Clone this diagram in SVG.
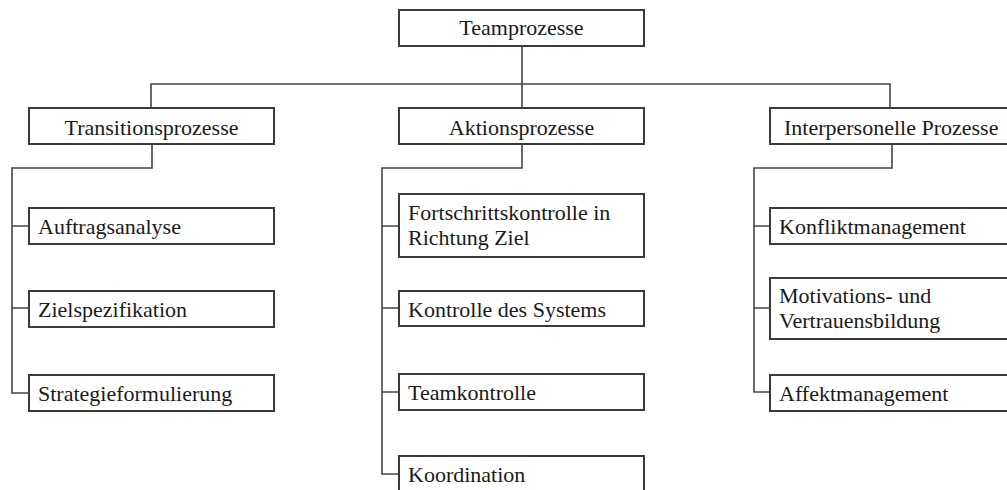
<svg xmlns="http://www.w3.org/2000/svg" width="1007" height="490" viewBox="0 0 1007 490">
<style>
.box{fill:#fff;stroke:#3a3a3a;stroke-width:2}
.ln{fill:none;stroke:#444;stroke-width:1.6}
</style>
<rect width="1007" height="490" fill="#fff"/>
<g id="connectors">
<path class="ln" d="M522 46V108M151 108V84H890V108"/>
<path class="ln" d="M152 144V168H12V393H29M12 226H29M12 308H29"/>
<path class="ln" d="M522 144V168H382V474H399M382 226H399M382 308H399M382 392H399"/>
<path class="ln" d="M892 144V168H754V392H770M754 226H770M754 308H770"/>
</g>
<g id="n-teamprozesse"><rect class="box" x="399" y="10" width="245" height="36"/><text font-family="Liberation Serif" font-size="22" fill="#1a1a1a" text-anchor="middle" x="521.5" y="35">Teamprozesse</text></g>
<g id="n-transition"><rect class="box" x="29" y="108" width="245" height="36"/><text font-family="Liberation Serif" font-size="22" fill="#1a1a1a" text-anchor="middle" x="151.5" y="135">Transitionsprozesse</text></g>
<g id="n-aktion"><rect class="box" x="399" y="108" width="245" height="36"/><text font-family="Liberation Serif" font-size="22" fill="#1a1a1a" text-anchor="middle" x="521.5" y="135">Aktionsprozesse</text></g>
<g id="n-interpersonell"><rect class="box" x="770" y="108" width="250" height="36"/><text font-family="Liberation Serif" font-size="22" fill="#1a1a1a" x="784" y="135">Interpersonelle Prozesse</text></g>
<g id="n-auftrag"><rect class="box" x="29" y="208" width="245" height="36"/><text font-family="Liberation Serif" font-size="22" fill="#1a1a1a" x="38" y="234">Auftragsanalyse</text></g>
<g id="n-ziel"><rect class="box" x="29" y="291" width="245" height="36"/><text font-family="Liberation Serif" font-size="22" fill="#1a1a1a" x="38" y="317">Zielspezifikation</text></g>
<g id="n-strategie"><rect class="box" x="29" y="375" width="245" height="36"/><text font-family="Liberation Serif" font-size="22" fill="#1a1a1a" x="38" y="401">Strategieformulierung</text></g>
<g id="n-fortschritt"><rect class="box" x="399" y="194" width="245" height="63"/><text font-family="Liberation Serif" font-size="22" fill="#1a1a1a" x="408" y="220">Fortschrittskontrolle in</text><text font-family="Liberation Serif" font-size="22" fill="#1a1a1a" x="408" y="245">Richtung Ziel</text></g>
<g id="n-system"><rect class="box" x="399" y="291" width="245" height="35"/><text font-family="Liberation Serif" font-size="22" fill="#1a1a1a" x="408" y="317">Kontrolle des Systems</text></g>
<g id="n-teamkontrolle"><rect class="box" x="399" y="374" width="245" height="36"/><text font-family="Liberation Serif" font-size="22" fill="#1a1a1a" x="408" y="400">Teamkontrolle</text></g>
<g id="n-koordination"><rect class="box" x="399" y="456" width="245" height="40"/><text font-family="Liberation Serif" font-size="22" fill="#1a1a1a" x="408" y="482">Koordination</text></g>
<g id="n-konflikt"><rect class="box" x="770" y="208" width="250" height="36"/><text font-family="Liberation Serif" font-size="22" fill="#1a1a1a" x="779" y="234">Konfliktmanagement</text></g>
<g id="n-motivation"><rect class="box" x="770" y="278" width="250" height="61"/><text font-family="Liberation Serif" font-size="22" fill="#1a1a1a" x="779" y="303">Motivations- und</text><text font-family="Liberation Serif" font-size="22" fill="#1a1a1a" x="779" y="328">Vertrauensbildung</text></g>
<g id="n-affekt"><rect class="box" x="770" y="375" width="250" height="36"/><text font-family="Liberation Serif" font-size="22" fill="#1a1a1a" x="779" y="401">Affektmanagement</text></g>
</svg>
